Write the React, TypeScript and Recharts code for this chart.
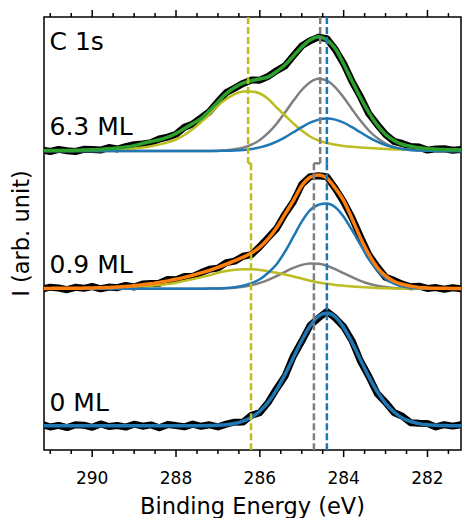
import React from 'react';
import { ComposedChart, Line, XAxis, YAxis, ReferenceLine, ReferenceArea } from 'recharts';

// binding energy grid (eV), left to right
const energies = [
  291.2, 291.0, 290.8, 290.6, 290.4, 290.2, 290.0, 289.8, 289.6, 289.4,
  289.2, 289.0, 288.8, 288.6, 288.4, 288.2, 288.0, 287.8, 287.6, 287.4,
  287.2, 287.0, 286.8, 286.6, 286.4, 286.2, 286.0, 285.8, 285.6, 285.4,
  285.2, 285.0, 284.8, 284.6, 284.4, 284.2, 284.0, 283.8, 283.6, 283.4,
  283.2, 283.0, 282.8, 282.6, 282.4, 282.2, 282.0, 281.8, 281.6, 281.4, 281.2,
];

// vertical offsets of the three stacked spectra
const offsets = { top: 299, mid: 161.3, bot: 24.2 };

// 6.3 ML
const topData = [
  1.0, -0.5, 1.6, 0.2, -0.5, 1.7, 1.4, 0.9, 3.5, 2.0,
  4.4, 6.3, 7.1, 8.2, 12.0, 13.9, 16.7, 23.7, 27.1, 33.1,
  39.4, 49.3, 58.5, 62.9, 67.6, 71.1, 70.8, 74.7, 80.3, 85.1,
  95.2, 105.1, 110.3, 113.9, 112.3, 101.5, 87.4, 69.5, 54.4, 37.4,
  26.6, 16.5, 9.7, 7.5, 4.4, 3.9, 0.9, 2.1, 2.3, 0.7, 1.4,
];
const topFit = [
  0.4, 0.4, 0.5, 0.5, 0.7, 0.9, 1.2, 1.6, 2.2, 3.0,
  4.0, 5.4, 7.6, 9.5, 11.3, 13.8, 17.5, 22.5, 27.5, 32.5,
  40.5, 49, 57.5, 63.5, 67.8, 70.2, 72, 74.2, 79.5, 86,
  95, 104, 111, 114.2, 111, 102.5, 87, 70, 53.5, 38.5,
  26, 16.5, 10.5, 6.5, 4.8, 3.2, 2.2, 1.8, 1.5, 1.3, 1.2,
];
const topOlive = [
  0.3, 0.3, 0.4, 0.4, 0.5, 0.6, 0.7, 0.9, 1.1, 1.4,
  1.8, 2.4, 3.4, 4.8, 6.6, 8.6, 11.5, 16, 22, 29,
  37, 45.5, 52, 57, 59.5, 59.6, 57.5, 52, 43.5, 35.5,
  27.5, 20.5, 14.5, 10.5, 8, 6.3, 5.1, 4.2, 3.5, 2.9,
  2.4, 2.0, 1.7, 1.4, 1.2, 1.0, 0.9, 0.8, 0.7, 0.6, 0.6,
];
const topGrey = [
  0, 0, 0, 0, 0, 0, 0, 0, 0, 0,
  0, 0, 0, 0, 0, 0, 0, 0, 0, 0,
  0.1, 0.3, 0.8, 1.7, 3.4, 6.3, 11.1, 18.1, 27.3, 38.5,
  50.2, 61.0, 68.8, 72.2, 70.3, 63.6, 53.5, 41.8, 30.4, 20.5,
  12.9, 7.5, 4.1, 2.0, 1.0, 0.4, 0.2, 0.1, 0, 0, 0,
];
const topBlue = [
  0, 0, 0, 0, 0, 0, 0, 0, 0, 0,
  0, 0, 0, 0, 0, 0, 0, 0, 0, 0,
  0, 0.1, 0.2, 0.5, 1.0, 2.0, 3.6, 6.0, 9.4, 13.7,
  18.7, 23.8, 28.3, 31.4, 32.5, 31.4, 28.3, 23.8, 18.7, 13.7,
  9.4, 6.0, 3.6, 2.0, 1.0, 0.5, 0.2, 0.1, 0, 0, 0,
];

// 0.9 ML
const midData = [
  -0.5, 1.5, 0.7, -1.0, 1.4, 0.4, 2.2, -0.1, 1.6, 1.0,
  3.3, 1.7, 4.6, 5.1, 5.4, 9.2, 8.9, 12.1, 12.3, 16.1,
  19.4, 20.6, 26.1, 27.6, 32.4, 34.1, 42.1, 51.2, 60.2, 74.6,
  86.9, 104.3, 112.0, 112.9, 111.9, 100.2, 86.8, 70.8, 52.1, 33.9,
  21.9, 11.4, 8.3, 4.6, 1.9, 2.5, 0.3, 1.1, -0.6, 1.0, 0.0,
];
const midFit = [
  0.3, 0.3, 0.4, 0.4, 0.5, 0.6, 0.7, 0.9, 1.2, 1.6,
  2.2, 3.0, 3.9, 4.9, 6.3, 7.8, 9.4, 11.3, 13.5, 15.8,
  18.4, 21.3, 24.5, 28, 31.5, 35.6, 41.5, 50, 61, 74.5,
  88, 103, 111.5, 113.8, 110.5, 100.5, 88, 70, 51, 34.5,
  21.5, 12.8, 7.4, 4.4, 2.6, 1.3, 0.8, 0.5, 0.4, 0.3, 0.3,
];
const midOlive = [
  0.1, 0.1, 0.1, 0.2, 0.2, 0.3, 0.4, 0.6, 0.8, 1.1,
  1.5, 1.9, 2.4, 2.9, 3.6, 4.6, 6.0, 7.8, 9.6, 11.5,
  13.5, 15.8, 17.6, 18.9, 19.5, 19.5, 18.7, 17.3, 16.0, 14.2,
  12.2, 10.2, 8.0, 6.3, 4.9, 3.8, 3.0, 2.3, 1.7, 1.2,
  0.8, 0.5, 0.3, 0.2, 0.1, 0.1, 0.1, 0, 0, 0, 0,
];
const midGrey = [
  0, 0, 0, 0, 0, 0, 0, 0, 0, 0,
  0, 0, 0, 0, 0, 0, 0, 0, 0, 0,
  0.1, 0.2, 0.5, 1.0, 2.0, 3.5, 5.8, 8.9, 12.7, 16.8,
  20.8, 23.8, 25.3, 25.0, 23.0, 19.6, 15.6, 11.5, 7.9, 5.0,
  3.0, 1.6, 0.8, 0.4, 0.2, 0.1, 0, 0, 0, 0, 0,
];
const midBlue = [
  0, 0, 0, 0, 0, 0, 0, 0, 0, 0,
  0, 0, 0, 0, 0, 0, 0, 0, 0, 0,
  0.1, 0.3, 0.7, 1.5, 3.0, 5.5, 9.5, 16, 24.5, 37,
  52, 67, 78.5, 84, 85.3, 81.5, 72, 58.5, 44, 30,
  18.5, 10, 5, 2.3, 1.0, 0.4, 0.15, 0, 0, 0, 0,
];

// 0 ML
const botData = [
  1.5, -1.2, 0.4, -1.8, 1.0, 0.6, -1.5, 1.9, -0.7, 0.3,
  -1.3, 1.6, -0.4, 0.9, -1.9, 1.2, 0.2, -1.0, 1.7, -0.5,
  1.0, -1.1, 1.6, 3.6, 3.7, 10.5, 13.2, 23.4, 37.1, 49.5,
  69.6, 84.5, 100.4, 107.7, 114.3, 107.7, 99.0, 85.1, 64.8, 49.6,
  32.3, 23.5, 13.3, 9.5, 3.1, 2.5, 2.3, -1.1, 1.1, -0.3, 1.2,
];
const botFit = [
  0, 0, 0, 0, 0, 0, 0, 0, 0, 0,
  0, 0, 0, 0, 0, 0, 0, 0, 0, 0.1,
  0.2, 0.5, 1.1, 2.3, 4.6, 8.5, 14.6, 23.7, 36.0, 51.2,
  68.2, 85.3, 99.8, 109.6, 112.8, 108.8, 98.3, 83.3, 66.1, 49.2,
  34.3, 22.5, 13.8, 7.9, 4.3, 2.2, 1.0, 0.5, 0.2, 0.1, 0,
];

// peak positions (eV) marked by the dashed lines, upper part / lower part
const oliveLine = [286.28, 286.21];
const greyLine = [284.56, 284.71];
const blueLine = [284.40, 284.40];
const lineBreakY = 286.7;

const xTicks = [281.5, 282, 282.5, 283, 283.5, 284, 284.5, 285, 285.5, 286, 286.5, 287, 287.5, 288, 288.5, 289, 289.5, 290, 290.5, 291];
const majorTicks = [282, 284, 286, 288, 290];

const BLUE = '#1f77b4';
const ORANGE = '#ff7f0e';
const GREEN = '#2ca02c';
const GREY = '#7f7f7f';
const OLIVE = '#bcbd22';
const FONT = '"DejaVu Sans", sans-serif';

const X_MIN = 281.2;
const X_MAX = 291.15;
const Y_MAX = 433;

const rows = energies.map((e, i) => ({
  e,
  topData: offsets.top + topData[i],
  topFit: offsets.top + topFit[i],
  topOlive: offsets.top + topOlive[i],
  topGrey: offsets.top + topGrey[i],
  topBlue: offsets.top + topBlue[i],
  midData: offsets.mid + midData[i],
  midFit: offsets.mid + midFit[i],
  midOlive: offsets.mid + midOlive[i],
  midGrey: offsets.mid + midGrey[i],
  midBlue: offsets.mid + midBlue[i],
  botData: offsets.bot + botData[i],
  botFit: offsets.bot + botFit[i],
}));

function BottomTick({ x, y, payload }: any) {
  const major = majorTicks.includes(payload.value);
  return (
    <g>
      <line x1={x} x2={x} y1={y} y2={y + (major ? 7 : 4)} stroke="#000" strokeWidth={1.5} />
      {major && (
        <text x={x} y={y + 34} textAnchor="middle" fontSize={17} fontFamily={FONT} fill="#000">
          {payload.value}
        </text>
      )}
    </g>
  );
}

function TopTick({ x, y, payload }: any) {
  const major = majorTicks.includes(payload.value);
  return <line x1={x} x2={x} y1={y} y2={y - (major ? 7 : 4)} stroke="#000" strokeWidth={1.5} />;
}

function dashed(color: string, xs: number[], key: string) {
  const segs = [
    [{ x: xs[0], y: Y_MAX }, { x: xs[0], y: lineBreakY }],
    [{ x: xs[0], y: lineBreakY }, { x: xs[1], y: lineBreakY }],
    [{ x: xs[1], y: lineBreakY }, { x: xs[1], y: 0 }],
  ];
  return segs.map((s, i) => (
    <ReferenceLine
      key={`${key}-${i}`}
      segment={s}
      stroke={color}
      strokeWidth={2.5}
      strokeDasharray="7 3"
      ifOverflow="visible"
    />
  ));
}

// measured points: a thick black band
const dataLine = (key: string) => (
  <Line
    key={key}
    dataKey={key}
    type="linear"
    stroke="#000"
    strokeWidth={7}
    strokeLinejoin="round"
    strokeLinecap="round"
    dot={false}
    activeDot={false}
    isAnimationActive={false}
  />
);

const fitLine = (key: string, color: string, width: number) => (
  <Line
    key={key}
    dataKey={key}
    type="monotone"
    stroke={color}
    strokeWidth={width}
    dot={false}
    activeDot={false}
    isAnimationActive={false}
  />
);

export default function App() {
  return (
    <div style={{ position: 'absolute', left: 0, top: 0, background: '#fff' }}>
      <ComposedChart width={462} height={518} data={rows} margin={{ top: 0, right: 1, bottom: 0, left: 0 }}>
        <XAxis
          dataKey="e"
          type="number"
          domain={[X_MIN, X_MAX]}
          allowDataOverflow
          reversed
          ticks={xTicks}
          interval={0}
          height={68}
          axisLine={false}
          tickLine={false}
          tickSize={0}
          tickMargin={0}
          tick={<BottomTick />}
        />
        <XAxis
          xAxisId="top"
          orientation="top"
          dataKey="e"
          type="number"
          domain={[X_MIN, X_MAX]}
          allowDataOverflow
          reversed
          ticks={xTicks}
          interval={0}
          height={17}
          axisLine={false}
          tickLine={false}
          tickSize={0}
          tickMargin={0}
          tick={<TopTick />}
        />
        <YAxis type="number" domain={[0, Y_MAX]} allowDataOverflow width={44} tick={false} tickLine={false} axisLine={false} />

        {dataLine('topData')}
        {fitLine('topGrey', GREY, 2.5)}
        {fitLine('topOlive', OLIVE, 2.5)}
        {fitLine('topBlue', BLUE, 2.5)}
        {fitLine('topFit', GREEN, 3.5)}

        {dataLine('midData')}
        {fitLine('midGrey', GREY, 2.5)}
        {fitLine('midOlive', OLIVE, 2.5)}
        {fitLine('midBlue', BLUE, 2.5)}
        {fitLine('midFit', ORANGE, 3.5)}

        {dataLine('botData')}
        {fitLine('botFit', BLUE, 3.5)}

        {dashed(OLIVE, oliveLine, 'olive')}
        {dashed(GREY, greyLine, 'grey')}
        {dashed(BLUE, blueLine, 'blue')}

        <ReferenceArea x1={X_MIN} x2={X_MAX} y1={0} y2={Y_MAX} fill="none" stroke="#000" strokeWidth={1.5} ifOverflow="visible" />

        <text x={49.5} y={49.5} fontSize={25} fontFamily={FONT} fill="#000">C 1s</text>
        <text x={49.5} y={135} fontSize={25} fontFamily={FONT} fill="#000">6.3 ML</text>
        <text x={49.5} y={273} fontSize={25} fontFamily={FONT} fill="#000">0.9 ML</text>
        <text x={49.5} y={411} fontSize={25} fontFamily={FONT} fill="#000">0 ML</text>
        <text x={252.5} y={514} fontSize={22.5} fontFamily={FONT} fill="#000" textAnchor="middle">
          Binding Energy (eV)
        </text>
        <text transform="translate(29,233.5) rotate(-90)" fontSize={22.5} fontFamily={FONT} fill="#000" textAnchor="middle">
          I (arb. unit)
        </text>
      </ComposedChart>
    </div>
  );
}
